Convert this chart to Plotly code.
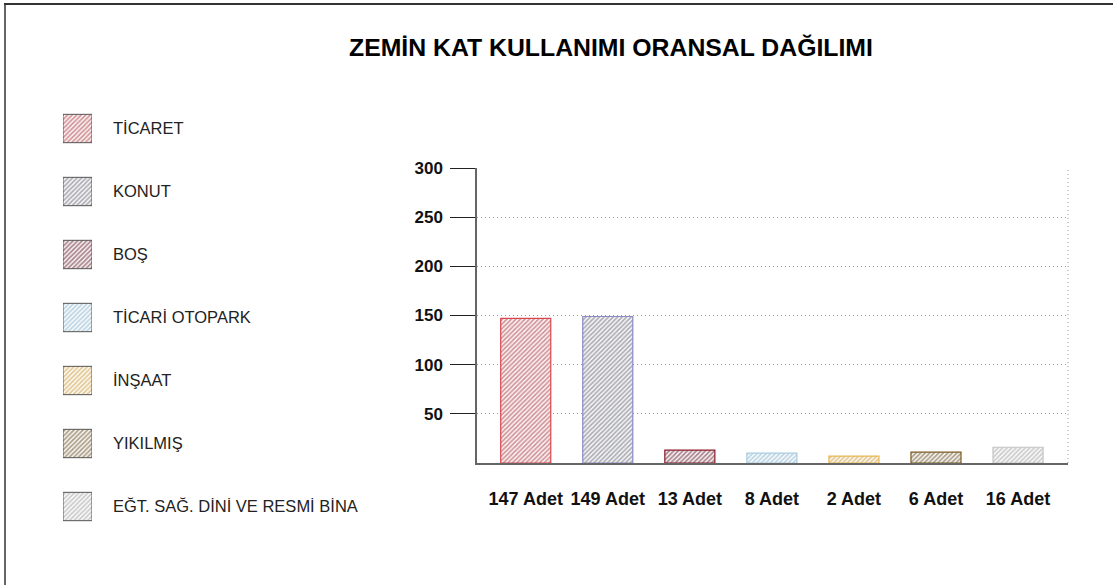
import plotly.graph_objects as go

# ---- data ----
categories = ["TİCARET", "KONUT", "BOŞ", "TİCARİ OTOPARK", "İNŞAAT", "YIKILMIŞ",
              "EĞT. SAĞ. DİNİ VE RESMİ BİNA"]
bar_values = [147, 149, 13, 10, 7, 11, 16]
bar_labels = ["147 Adet", "149 Adet", "13 Adet", "8 Adet", "2 Adet", "6 Adet", "16 Adet"]
y_tick_values = [50, 100, 150, 200, 250, 300]
legend_sizes = [1, 1, 1, 1, 1, 1, 1]
title_text = "ZEMİN KAT KULLANIMI ORANSAL DAĞILIMI"

# ---- styles ----
outline_colors = ["#d9474f", "#8a8ac8", "#8b1a2b", "#a8cce0", "#e8b850", "#7a5a20", "#c4c4c4"]
hatch_colors = ["#a83038", "#606070", "#5a1020", "#80acc8", "#c89430", "#604518", "#9a9a9a"]

W, H = 1113, 585
def px_x(v):
    return v / W
def px_y(v):
    return 1 - v / H

FONT = "Liberation Sans, Arial, sans-serif"
PATTERN = dict(shape="/", size=3.2, solidity=0.58)

fig = go.Figure()

# main bars
fig.add_trace(go.Bar(
    x=bar_labels, y=bar_values,
    width=0.61,
    marker=dict(
        color="white",
        line=dict(color=outline_colors, width=1.2),
        pattern=dict(fgcolor=hatch_colors, bgcolor="white", fillmode="overlay", **PATTERN),
    ),
    xaxis="x", yaxis="y", showlegend=False, hoverinfo="x+y",
))

# legend swatches (drawn as a small categorical bar chart)
fig.add_trace(go.Bar(
    x=legend_sizes, y=categories, orientation="h",
    width=0.45,
    marker=dict(
        color="white",
        line=dict(color="#555555", width=1),
        pattern=dict(fgcolor=hatch_colors, bgcolor="white", fillmode="overlay", **PATTERN),
    ),
    xaxis="x2", yaxis="y2", showlegend=False, hoverinfo="y",
))

fig.update_layout(
    width=W, height=H,
    margin=dict(l=0, r=0, t=0, b=0),
    paper_bgcolor="white", plot_bgcolor="white",
    font=dict(family=FONT, color="#111111"),
    xaxis=dict(
        domain=[px_x(477), px_x(1068)],
        anchor="y",
        type="category",
        range=[-0.594, 6.609],
        showgrid=False,
        showline=True, linecolor="#666666", linewidth=1.5,
        ticks="", ticklabelstandoff=19,
        tickfont=dict(family=FONT, size=18, color="#111111", weight="bold"),
        automargin=False, zeroline=False,
    ),
    yaxis=dict(
        domain=[px_y(463), px_y(168)],
        anchor="x",
        range=[0, 300],
        tickvals=y_tick_values,
        ticks="outside", ticklen=25, tickcolor="#222222", tickwidth=1,
        ticklabelstandoff=4,
        tickfont=dict(family=FONT, size=17, color="#111111", weight="bold"),
        showgrid=True, gridcolor="#9a9a9a", griddash="1px,3px", gridwidth=1,
        showline=True, linecolor="#666666", linewidth=1.5,
        zeroline=False, automargin=False,
    ),
    xaxis2=dict(
        domain=[px_x(63), px_x(92)],
        anchor="y2",
        range=[0, 1],
        visible=False,
    ),
    yaxis2=dict(
        domain=[px_y(538), px_y(97)],
        anchor="x2",
        type="category",
        autorange="reversed",
        side="right",
        showgrid=False, showline=False, zeroline=False,
        ticks="", ticklabelstandoff=20,
        tickfont=dict(family=FONT, size=16.5, color="#222222"),
        automargin=False,
    ),
    annotations=[dict(
        text=title_text, xref="paper", yref="paper",
        x=px_x(611), y=px_y(47), xanchor="center", yanchor="middle",
        showarrow=False,
        font=dict(family=FONT, size=24.8, color="#000000", weight="bold"),
    )],
    shapes=[
        # right dotted border of plot area
        dict(type="line", xref="x domain", yref="y domain", x0=1, x1=1, y0=0, y1=1,
             line=dict(color="#9a9a9a", width=1, dash="1px,3px")),
        # page frame: top and left
        dict(type="line", xref="paper", yref="paper", x0=px_x(4), x1=1, y0=px_y(4), y1=px_y(4),
             line=dict(color="#333333", width=2)),
        dict(type="line", xref="paper", yref="paper", x0=px_x(5), x1=px_x(5), y0=0, y1=px_y(4),
             line=dict(color="#333333", width=1.5)),
    ],
)

fig.write_html("out.html", config={"displayModeBar": False},
               post_script="document.body.style.margin='0';document.body.style.overflow='hidden';")
